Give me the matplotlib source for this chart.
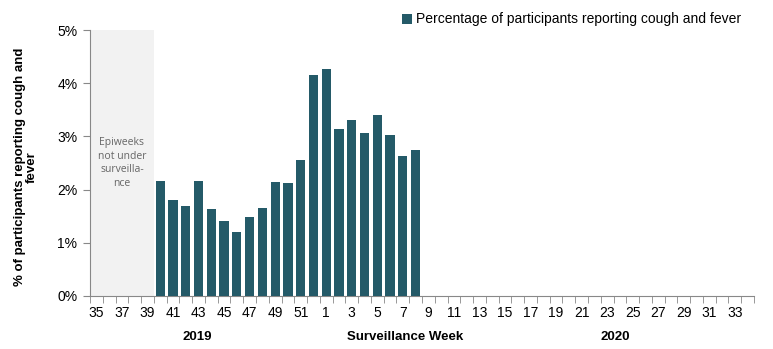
import matplotlib
matplotlib.use("Agg")
import matplotlib.pyplot as plt
import numpy as np

plt.rcParams['font.family'] = ['Liberation Sans', 'DejaVu Sans']

weeks = list(range(35, 53)) + list(range(1, 35))
surv_weeks = list(range(40, 53)) + list(range(1, 9))
pct = [2.17, 1.80, 1.70, 2.17, 1.63, 1.40, 1.21, 1.49, 1.66, 2.15, 2.12, 2.55,
       4.15, 4.27, 3.13, 3.30, 3.06, 3.40, 3.02, 2.64, 2.74]
unsurveilled = [35, 36, 37, 38, 39]
yticks = [0, 1, 2, 3, 4, 5]

bar_color = '#245a68'
axis_color = '#888888'

fig = plt.figure(figsize=(7.73, 3.49), dpi=100)
ax = fig.add_axes([90 / 773, 0.152, (754 - 90) / 773, 0.762])

idx = {w: i for i, w in enumerate(weeks)}
xs = [idx[w] for w in surv_weeks]
ax.bar(xs, pct, width=0.72, color=bar_color, label='Percentage of participants reporting cough and fever', zorder=3)

# shaded area for weeks not under surveillance
lo = idx[unsurveilled[0]] - 0.5
hi = idx[unsurveilled[-1]] + 0.5
ax.axvspan(lo, hi, color='#f2f2f2', zorder=1, lw=0)
ax.text((lo + hi) / 2, 2.5, 'Epiweeks\nnot under\nsurveilla-\nnce', ha='center', va='center',
        fontsize=7.5, color='#666666', linespacing=1.35, family=['Open Sans', 'DejaVu Sans'])

ax.set_xlim(-0.5, len(weeks) - 0.5)
ax.set_ylim(0, 5)
ax.set_yticks(yticks)
ax.set_yticklabels([f'{v}%' for v in yticks], fontsize=10)

lab_pos = list(range(0, len(weeks), 2))
ax.set_xticks(lab_pos)
ax.set_xticklabels([str(weeks[i]) for i in lab_pos], fontsize=10)
ax.set_xticks(np.arange(-0.5, len(weeks) + 0.5, 1), minor=True)
ax.tick_params(axis='x', which='major', length=0, pad=7)
ax.tick_params(axis='x', which='minor', length=5, color=axis_color, direction='out')
ax.tick_params(axis='y', length=5, color=axis_color, direction='out', pad=4)

for s in ['top', 'right']:
    ax.spines[s].set_visible(False)
for s in ['left', 'bottom']:
    ax.spines[s].set_color(axis_color)

ax.set_ylabel('% of participants reporting cough and\nfever', fontsize=9.5, fontweight='bold', linespacing=1.0)
ax.yaxis.set_label_coords(-(90 - 38) / 664, 0.485)

fig.text(197 / 773, 1 - 337 / 349, '2019', ha='center', va='center', fontsize=9.5, fontweight='bold')
fig.text(405 / 773, 1 - 337 / 349, 'Surveillance Week', ha='center', va='center', fontsize=9.5, fontweight='bold')
fig.text(615 / 773, 1 - 337 / 349, '2020', ha='center', va='center', fontsize=9.5, fontweight='bold')

leg = fig.legend(loc='upper right', bbox_to_anchor=(0.975, 1.0), frameon=False, fontsize=10,
                 handlelength=0.7, handleheight=0.7, handletextpad=0.3)

fig.savefig('out.png', dpi=100)
